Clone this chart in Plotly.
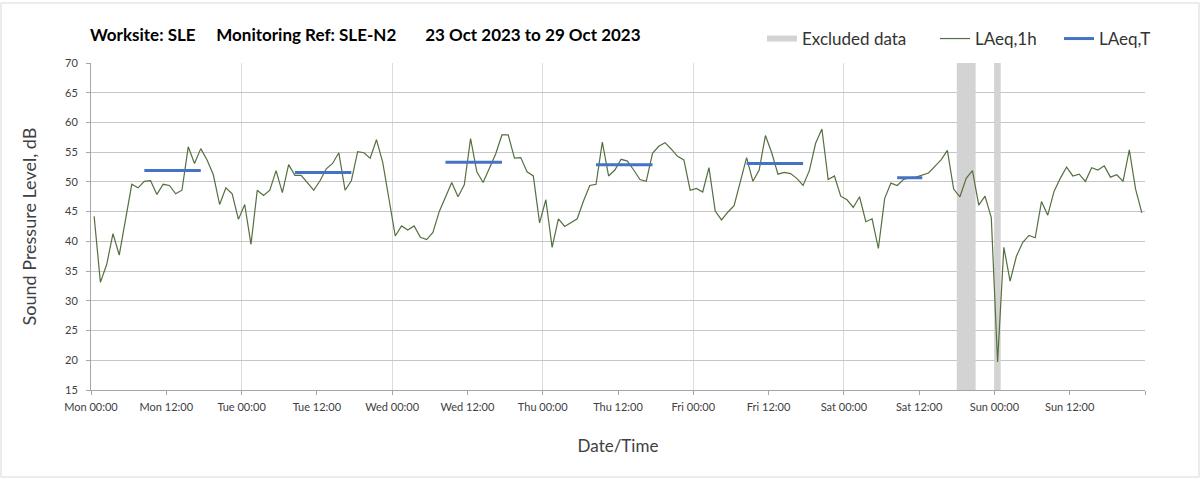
import plotly.graph_objects as go

# LAeq,1h readings, hourly from Mon 23 Oct 2023 00:00
laeq_1h = [
    # Mon
    44.2, 33.1, 36.1, 41.3, 37.7, 43.4, 49.6, 49.0, 50.1, 50.2, 47.9, 49.6,
    49.4, 48.0, 48.6, 55.9, 53.1, 55.6, 53.7, 51.2, 46.2, 49.0, 48.0, 43.7,
    # Tue
    46.2, 39.5, 48.6, 47.7, 48.6, 51.9, 48.2, 52.9, 51.1, 51.1, 49.8, 48.6,
    50.2, 52.2, 53.1, 54.9, 48.6, 50.2, 55.1, 54.9, 54.0, 57.1, 53.3, 47.0,
    # Wed
    40.9, 42.6, 41.9, 42.6, 40.7, 40.3, 41.5, 45.0, 47.4, 49.9, 47.5, 49.5,
    57.3, 51.7, 49.9, 52.4, 54.7, 57.9, 57.9, 54.0, 54.1, 51.7, 51.0, 43.1,
    # Thu
    47.0, 39.0, 43.8, 42.5, 43.1, 43.8, 46.8, 49.4, 49.6, 56.7, 51.0, 52.0,
    53.8, 53.5, 52.0, 50.4, 50.1, 54.8, 56.0, 56.6, 55.5, 54.3, 53.7, 48.6,
    # Fri
    48.9, 48.3, 52.4, 45.1, 43.6, 44.9, 46.0, 50.3, 54.1, 50.1, 52.0, 57.8,
    54.9, 51.3, 51.6, 51.4, 50.6, 49.4, 51.9, 56.5, 58.9, 50.4, 51.0, 47.6,
    # Sat
    47.0, 45.7, 47.5, 43.3, 43.8, 38.8, 47.2, 49.8, 49.4, 50.4, 50.7, 50.8,
    51.1, 51.5, 52.6, 53.7, 55.3, 48.8, 47.5, 50.6, 51.9, 46.1, 47.6, 44.0,
    # Sun
    19.7, 39.0, 33.3, 37.5, 39.8, 41.0, 40.6, 46.7, 44.4, 48.4, 50.6, 52.5,
    51.0, 51.3, 50.1, 52.4, 52.0, 52.7, 50.8, 51.2, 50.1, 55.4, 48.8, 44.8,
]

# LAeq,T periods (hour index of first / last hourly value) and levels
laeq_t_start = [8, 32, 56, 80, 104, 128]
laeq_t_end = [17, 41, 65, 89, 113, 132]
laeq_t_value = [51.9, 51.6, 53.3, 52.9, 53.1, 50.7]

# excluded periods, hours from start of week
excl_start = [138, 144]
excl_end = [141, 145]

days = ["Mon", "Tue", "Wed", "Thu", "Fri", "Sat", "Sun"]
y_min, y_max = 15, 70

# hourly values sit in the middle of each hour category
x_hours = [i + 0.5 for i in range(len(laeq_1h))]

tick_vals = list(range(0, 169, 12))
tick_text = [f"{days[h // 24]} {h % 24:02d}:00" for h in tick_vals[:-1]] + [""]

# plot area in pixels (used to place legends / border)
L, R, T, B = 91, 58, 63, 89
W, H = 1203, 479
pw, ph = W - L - R, H - T - B


def px_x(x):
    return (x - L) / pw


def px_y(y):
    return (H - B - y) / ph


fig = go.Figure()

# excluded data bands
ex_x, ex_y = [], []
for s, e in zip(excl_start, excl_end):
    ex_x += [s, e, e, s, s, None]
    ex_y += [y_min, y_min, y_max, y_max, y_min, None]
fig.add_trace(go.Scatter(
    x=ex_x, y=ex_y, mode="none", fill="toself",
    fillcolor="#d3d3d3", name="Excluded data", hoverinfo="skip", legend="legend"
))

fig.add_trace(go.Scatter(
    x=x_hours, y=laeq_1h, mode="lines", name="LAeq,1h",
    line=dict(color="#557040", width=1.2), legend="legend2"
))

t_x, t_y = [], []
for s, e, v in zip(laeq_t_start, laeq_t_end, laeq_t_value):
    t_x += [s + 0.5, e + 0.5, None]
    t_y += [v, v, None]
fig.add_trace(go.Scatter(
    x=t_x, y=t_y, mode="lines", name="LAeq,T",
    line=dict(color="#4472c4", width=3), legend="legend3"
))

nb = "\u00a0"
title = (f"Worksite: SLE{nb*5}Monitoring Ref: SLE-N2{nb*7}"
         f"23 Oct 2023 to 29 Oct 2023")

leg_common = dict(orientation="h", xanchor="left", y=px_y(39), yanchor="middle",
                  font=dict(size=17, color="#333333"), bgcolor="rgba(0,0,0,0)",
                  itemwidth=30)

fig.update_layout(
    width=W, height=H,
    margin=dict(l=L, r=R, t=T, b=B, autoexpand=False),
    paper_bgcolor="white", plot_bgcolor="white",
    font=dict(family="Lato, sans-serif", color="#404040"),
    title=dict(text=f"<b>{title}</b>", x=90 / W, xanchor="left",
               y=1 - 35 / H, yanchor="middle",
               font=dict(size=17, color="#000000")),
    showlegend=True,
    legend=dict(x=px_x(762), **leg_common),
    legend2=dict(x=px_x(935), **leg_common),
    legend3=dict(x=px_x(1059), **leg_common),
    xaxis=dict(
        range=[0, 168], tickmode="array", tickvals=tick_vals, ticktext=tick_text,
        showgrid=False, zeroline=False,
        showline=True, linecolor="#a6a6a6", linewidth=1,
        ticks="outside", ticklen=4, tickcolor="#a6a6a6", ticklabelstandoff=3,
        tickfont=dict(size=11, color="#404040"),
        minor=dict(tickvals=list(range(24, 169, 24)), showgrid=True,
                   gridcolor="#dcdcdc", gridwidth=1, ticks=""),
        title=dict(text="Date/Time", font=dict(size=17, color="#404040"), standoff=27),
    ),
    yaxis=dict(
        range=[y_min, y_max], dtick=5, showgrid=True, gridcolor="#c6c6c6", gridwidth=1,
        zeroline=False, showline=True, linecolor="#a6a6a6", linewidth=1,
        ticks="outside", ticklen=4, tickcolor="#a6a6a6", ticklabelstandoff=6,
        tickfont=dict(size=11, color="#404040"),
        title=dict(text="Sound Pressure Level, dB", font=dict(size=18, color="#404040"),
                   standoff=23),
    ),
    shapes=[dict(type="rect", xref="paper", yref="paper",
                 x0=px_x(1), x1=px_x(1199), y0=px_y(477), y1=px_y(3),
                 line=dict(color="#d9d9d9", width=1), layer="below")],
)

fig.write_html("out.html", config={"displayModeBar": False},
               post_script="document.body.style.margin='0';")
